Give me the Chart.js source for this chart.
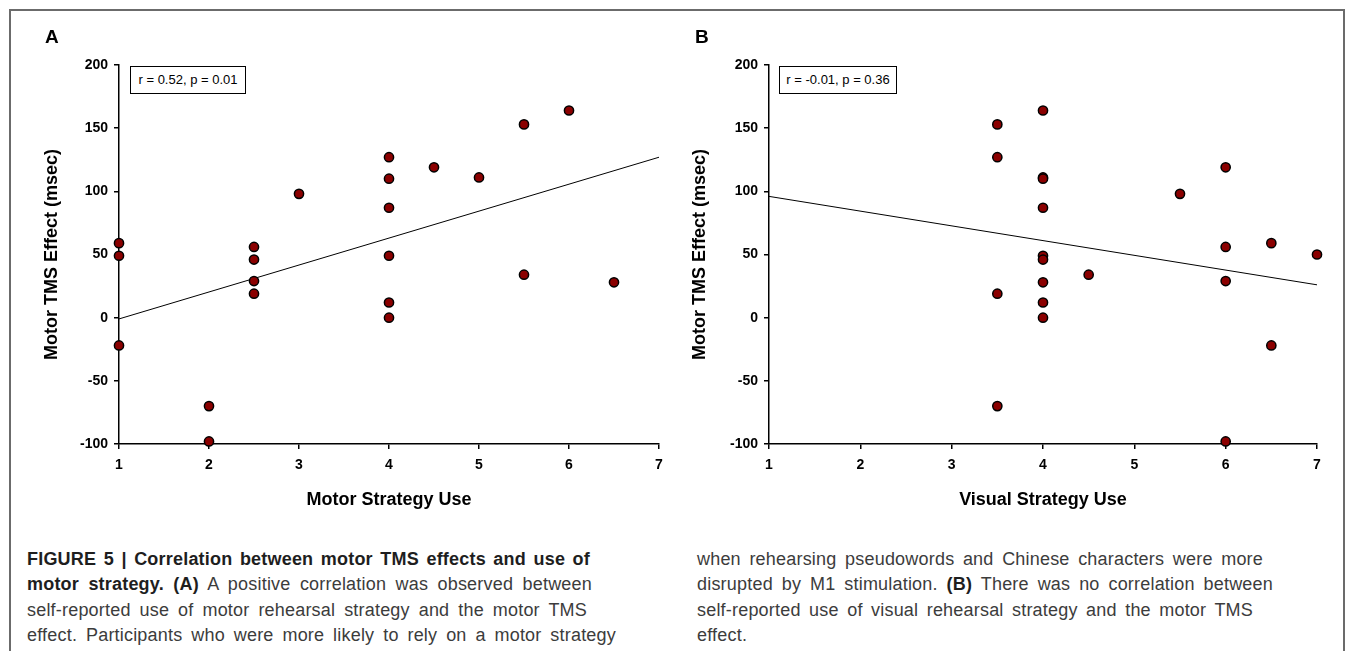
<!DOCTYPE html>
<html>
<head>
<meta charset="utf-8">
<script src="https://cdn.jsdelivr.net/npm/chart.js@4.4.1/dist/chart.umd.min.js"></script>
<style>
    body { margin: 0; background: #fff; font-family: "Liberation Sans", Arial, sans-serif; }
    #page { position: relative; width: 1355px; height: 651px; overflow: hidden; }
    #frame { position: absolute; left: 9px; top: 9px; width: 1336px; height: 700px; border: 2px solid #6b6b6b; box-sizing: border-box; }
    .holder { position: absolute; top: 0; }
    .panel-label { position: absolute; top: 26px; font-weight: bold; font-size: 19px; color: #000; }
    .stat-box { position: absolute; top: 66px; height: 28px; border: 1px solid #000; box-sizing: border-box;
                font-size: 13px; line-height: 26px; text-align: center; color: #000; background: #fff; }
    .caption { position: absolute; top: 547px; font-size: 18px; line-height: 25.3px; color: #3c3c3c; letter-spacing: 0.2px; }
    .caption div { white-space: nowrap; text-align: justify; text-align-last: justify; }
    .caption b { color: #1e1e1e; }
</style>
</head>
<body>
<div id="page">
    <div id="frame"></div>

    <div class="holder" style="left:0px;"><canvas id="chart-a" width="680" height="520"></canvas></div>
    <div class="holder" style="left:650px;"><canvas id="chart-b" width="705" height="520"></canvas></div>

    <div class="panel-label" style="left:45px;">A</div>
    <div class="panel-label" style="left:695px;">B</div>

    <div class="stat-box" style="left:130px; width:116px;">r = 0.52, p = 0.01</div>
    <div class="stat-box" style="left:779px; width:118px;">r = -0.01, p = 0.36</div>

    <div class="caption" style="left:27px;">
        <div style="width:563px;"><b>FIGURE 5 | Correlation between motor TMS effects and use of</b></div>
        <div style="width:565px;"><b>motor strategy. (A)</b> A positive correlation was observed between</div>
        <div style="width:560px;">self-reported use of motor rehearsal strategy and the motor TMS</div>
        <div style="width:589px;">effect. Participants who were more likely to rely on a motor strategy</div>
    </div>
    <div class="caption" style="left:697px;">
        <div style="width:566px;">when rehearsing pseudowords and Chinese characters were more</div>
        <div style="width:576px;">disrupted by M1 stimulation. <b>(B)</b> There was no correlation between</div>
        <div style="width:556px;">self-reported use of visual rehearsal strategy and the motor TMS</div>
        <div style="text-align-last:left;">effect.</div>
    </div>
</div>

<script>
// TMS effect per participant (msec)
const motorScores = [1, 1, 1, 2, 2, 2.5, 2.5, 2.5, 2.5, 3, 4, 4, 4, 4, 4, 4, 4.5, 5, 5.5, 5.5, 6, 6.5];
const motorEffects = [59, 49, -22, -70, -98, 56, 46, 29, 19, 98, 127, 110, 87, 49, 12, 0, 119, 111, 153, 34, 164, 28];

const visualScores = [3.5, 3.5, 3.5, 3.5, 4, 4, 4, 4, 4, 4, 4, 4, 4, 4.5, 5.5, 6, 6, 6, 6, 6.5, 6.5, 7];
const visualEffects = [153, 127, 19, -70, 164, 111, 110, 87, 49, 46, 28, 12, 0, 34, 98, 119, 56, 29, -98, 59, -22, 50];

// fitted lines, end points at x = 1 and x = 7
const fitX = [1, 7];
const motorFitY = [-1, 127];
const visualFitY = [96, 26];

const yTicks = [-100, -50, 0, 50, 100, 150, 200];
const xTicks = [1, 2, 3, 4, 5, 6, 7];

const axisFont = { family: "'Liberation Sans', Arial, sans-serif", size: 14, weight: 'bold' };
const titleFont = { family: "'Liberation Sans', Arial, sans-serif", size: 18, weight: 'bold' };

function makeChart(canvasId, xs, ys, fitY, xTitle, cfg) {
    const points = xs.map((x, i) => ({ x: x, y: ys[i] }));
    const fit = fitX.map((x, i) => ({ x: x, y: fitY[i] }));

    return new Chart(document.getElementById(canvasId), {
        type: 'scatter',
        data: {
            datasets: [
                {
                    data: points,
                    backgroundColor: '#8b0000',
                    borderColor: '#000',
                    borderWidth: 1.5,
                    pointRadius: 4.6,
                    order: 1,
                    clip: false
                },
                {
                    type: 'line',
                    data: fit,
                    borderColor: '#000',
                    borderWidth: 1,
                    pointRadius: 0,
                    fill: false,
                    order: 2,
                    clip: false
                }
            ]
        },
        options: {
            responsive: false,
            animation: false,
            events: [],
            layout: {
                padding: { left: 0, top: 65, right: cfg.padRight, bottom: 0 }
            },
            plugins: {
                legend: { display: false },
                tooltip: { enabled: false }
            },
            scales: {
                x: {
                    type: 'linear',
                    min: 1,
                    max: 7,
                    afterBuildTicks: scale => { scale.ticks = xTicks.map(v => ({ value: v })); },
                    afterFit: scale => { scale.height = 76; },
                    border: { display: true, color: '#000', width: 1.5 },
                    grid: { drawOnChartArea: false, drawTicks: true, tickLength: 5, tickColor: '#000', lineWidth: 1.5 },
                    ticks: { color: '#000', font: axisFont, padding: 8, maxRotation: 0 },
                    title: { display: true, text: xTitle, color: '#000', font: titleFont, padding: { top: 0, bottom: 9 } }
                },
                y: {
                    type: 'linear',
                    min: -100,
                    max: 200,
                    afterBuildTicks: scale => { scale.ticks = yTicks.map(v => ({ value: v })); },
                    afterFit: scale => { scale.width = 119; },
                    border: { display: true, color: '#000', width: 1.5 },
                    grid: { drawOnChartArea: false, drawTicks: true, tickLength: 5, tickColor: '#000', lineWidth: 1.5 },
                    ticks: { color: '#000', font: axisFont, padding: 6 },
                    title: { display: true, text: 'Motor TMS Effect (msec)', color: '#000', font: titleFont, padding: { top: cfg.titleOffset, bottom: 0 } }
                }
            }
        }
    });
}

makeChart('chart-a', motorScores, motorEffects, motorFitY, 'Motor Strategy Use', { padRight: 21, titleOffset: 41 });
makeChart('chart-b', visualScores, visualEffects, visualFitY, 'Visual Strategy Use', { padRight: 38, titleOffset: 39 });
</script>
</body>
</html>
